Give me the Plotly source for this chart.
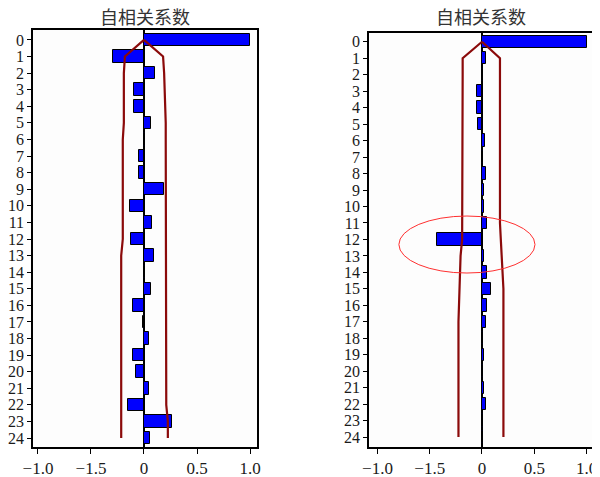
import plotly.graph_objects as go

lags = list(range(25))

acf_left = [1.0, -0.29, 0.10, -0.09, -0.09, 0.07, 0.005, -0.045, -0.05, 0.185,
            -0.13, 0.08, -0.12, 0.09, 0.005, 0.07, -0.10, -0.005, 0.045, -0.10,
            -0.08, 0.045, -0.15, 0.265, 0.06]
upper_left = [0, 0.18, 0.19, 0.195, 0.205, 0.205, 0.205, 0.205, 0.205, 0.205,
              0.205, 0.205, 0.205, 0.21, 0.21, 0.21, 0.21, 0.21, 0.21, 0.21,
              0.21, 0.21, 0.21, 0.225, 0.225]
lower_left = [0, -0.18, -0.19, -0.19, -0.19, -0.19, -0.2, -0.2, -0.2, -0.2,
              -0.2, -0.2, -0.2, -0.215, -0.215, -0.215, -0.215, -0.215, -0.215, -0.215,
              -0.215, -0.215, -0.215, -0.215, -0.215]

acf_right = [1.0, 0.035, 0.005, -0.05, -0.05, -0.04, 0.025, 0.005, 0.035, 0.022,
             0.02, 0.045, -0.43, 0.02, 0.045, 0.085, 0.045, 0.035, 0.005, 0.015,
             0.005, 0.015, 0.035, 0.005, 0.005]
upper_right = [0, 0.172, 0.172, 0.172, 0.172, 0.172, 0.172, 0.172, 0.172, 0.172,
               0.172, 0.172, 0.18, 0.19, 0.2, 0.205, 0.205, 0.205, 0.205, 0.205,
               0.205, 0.205, 0.205, 0.205, 0.205]
lower_right = [0, -0.185, -0.185, -0.185, -0.185, -0.185, -0.185, -0.185, -0.185, -0.185,
               -0.185, -0.185, -0.19, -0.205, -0.21, -0.215, -0.225, -0.225, -0.225, -0.225,
               -0.225, -0.225, -0.225, -0.225, -0.225]

x_tickvals = [-1.0, -0.5, 0, 0.5, 1.0]
x_ticktext = ["\u22121.0", "\u22121.5", "0", "0.5", "1.0"]
title_text = "自相关系数"

# highlight ellipse on right panel (data coords)
ellipse = dict(x0=-0.795, x1=0.507, y0=10.58, y1=14.04)

BAR_BLUE = "#0000ff"
BOUND_RED = "#8b0a0a"

# page body has an 8px margin; size figure so it fills the 600x477 window
W, H, OFF = 592, 469, 8

fig = go.Figure()

for acf, up, lo, xa, ya in [(acf_left, upper_left, lower_left, "x", "y"),
                            (acf_right, upper_right, lower_right, "x2", "y2")]:
    fig.add_trace(go.Bar(x=acf, y=lags, orientation="h", width=0.75,
                         marker=dict(color=BAR_BLUE, line=dict(color="black", width=1)),
                         xaxis=xa, yaxis=ya, showlegend=False))
    fig.add_trace(go.Scatter(x=up, y=lags, mode="lines",
                             line=dict(color=BOUND_RED, width=2.2),
                             xaxis=xa, yaxis=ya, showlegend=False))
    fig.add_trace(go.Scatter(x=lo, y=lags, mode="lines",
                             line=dict(color=BOUND_RED, width=2.2),
                             xaxis=xa, yaxis=ya, showlegend=False))

xtickfont = dict(family="Liberation Serif", size=17, color="#1a1a1a")
ytickfont = dict(family="Liberation Serif", size=16, color="#1a1a1a")

xcommon = dict(tickvals=x_tickvals, ticktext=x_ticktext, ticks="outside", ticklen=5,
               tickcolor="black", showline=True, linecolor="black", linewidth=1.5,
               mirror=True, showgrid=False, zeroline=True, zerolinecolor="black",
               zerolinewidth=1.8, tickfont=xtickfont, fixedrange=True)
ycommon = dict(tickvals=lags, ticktext=[str(v) for v in lags], ticks="outside",
               ticklen=4, tickcolor="black", showline=True, linecolor="black",
               linewidth=1.5, mirror=True, showgrid=False, zeroline=False,
               tickfont=ytickfont, fixedrange=True)


def xd(a, b):
    return [(a - OFF) / W, (b - OFF) / W]


def yd(top, bottom):
    return [(H - (bottom - OFF)) / H, (H - (top - OFF)) / H]


title_font = dict(family="Noto Sans CJK SC", size=18, color="#333")
title_y = 1 + 6 / H

fig.update_layout(
    width=W, height=H,
    margin=dict(l=0, r=0, t=0, b=0, autoexpand=False),
    paper_bgcolor="white", plot_bgcolor="#fdfdfd",
    bargap=0,
    xaxis=dict(domain=xd(33, 257), range=[-1.047, 1.066], anchor="y", **xcommon),
    yaxis=dict(domain=yd(30, 447), range=[24.54, -0.6], anchor="x", **ycommon),
    xaxis2=dict(domain=xd(369, 593), range=[-1.081, 1.062], anchor="y2", **xcommon),
    yaxis2=dict(domain=yd(33, 447), range=[24.6, -0.53], anchor="x2", **ycommon),
    annotations=[
        dict(text=title_text, x=(145 - OFF) / W, y=title_y, xref="paper", yref="paper",
             showarrow=False, xanchor="center", yanchor="top", borderpad=0,
             font=title_font),
        dict(text=title_text, x=(481 - OFF) / W, y=title_y, xref="paper", yref="paper",
             showarrow=False, xanchor="center", yanchor="top", borderpad=0,
             font=title_font),
    ],
    shapes=[dict(type="circle", xref="x2", yref="y2", line=dict(color="#ff3030", width=1),
                 **ellipse)],
)

fig.write_html("out.html")
